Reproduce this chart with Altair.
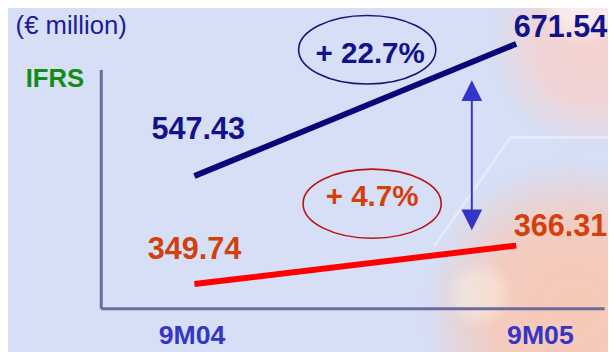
import altair as alt
import pandas as pd

# ---- data -------------------------------------------------------------
periods = ["9M04", "9M05"]
series_a = [547.43, 671.54]   # upper (navy) series, € million
series_b = [349.74, 366.31]   # lower (red) series, € million
unit_label = "(€ million)"
standard_label = "IFRS"

growth_a = f"+ {(series_a[1] / series_a[0] - 1) * 100:.1f}%"
growth_b = f"+ {(series_b[1] / series_b[0] - 1) * 100:.1f}%"

df_a = pd.DataFrame({"period": periods, "value": series_a})
df_b = pd.DataFrame({"period": periods, "value": series_b})
one = pd.DataFrame({"k": [0]})

# ---- style ------------------------------------------------------------
FONT = "Liberation Sans"
NAVY_LINE = "#07077a"
NAVY_TEXT = "#12128c"
RED_LINE = "#ff0000"
RED_TEXT = "#d2400e"
ARROW = "#3434c8"
AXIS = "#6a6a9c"
BG = "#d6dff6"

x_axis = alt.Axis(
    title=None, labelAngle=0, ticks=False, tickSize=0, grid=False, zindex=1,
    domain=True, domainColor=AXIS, domainWidth=3, domainCap="butt",
    labelFont=FONT, labelFontSize=27, labelFontWeight="bold",
    labelColor="#3636c6", labelPadding=15,
    labelOffset={"condition": {"test": "datum.label == '9M05'", "value": 24}, "value": -3},
)
x_enc = alt.X("period:N", sort=periods,
              scale=alt.Scale(type="point", padding=0.282, align=0.516),
              axis=x_axis)

y_axis_a = alt.Axis(title=None, labels=False, ticks=False, grid=False, zindex=1,
                    domain=True, domainColor=AXIS, domainWidth=3, domainCap="butt")
y_a = alt.Y("value:Q", scale=alt.Scale(domain=[423.3, 647.5], zero=False, nice=False),
            axis=y_axis_a)
y_b = alt.Y("value:Q", scale=alt.Scale(domain=[339.3, 442.2], zero=False, nice=False),
            axis=None)

# ---- decoration (soft background glow) --------------------------------
def glow(px, py, r, rgb, alpha):
    c = lambda a: f"rgba({rgb[0]},{rgb[1]},{rgb[2]},{a})"
    grad = alt.RadialGradient(
        gradient="radial",
        stops=[alt.GradientStop(offset=0, color=c(alpha)),
               alt.GradientStop(offset=0.55, color=c(alpha * 0.85)),
               alt.GradientStop(offset=1, color=c(0))],
    )
    return alt.Chart(one).mark_circle(fill=grad, opacity=1, strokeWidth=0).encode(
        x=alt.value(px), y=alt.value(py), size=alt.value(3.1416 * r * r))

deco = [
    glow(500, -25, 120, (246, 210, 206), 0.95),
    glow(488, -68, 50, (255, 255, 255), 0.6),
    glow(480, 245, 175, (248, 200, 182), 1.0),
    glow(384, 228, 40, (255, 252, 235), 0.4),
    alt.Chart(one).mark_rule(color="#ffffff", opacity=0.35, strokeWidth=3).encode(
        x=alt.value(338), y=alt.value(179), x2=alt.value(415), y2=alt.value(69)),
    alt.Chart(one).mark_rule(color="#ffffff", opacity=0.35, strokeWidth=3).encode(
        x=alt.value(415), y=alt.value(69), x2=alt.value(514), y2=alt.value(69)),
]

# ---- series -----------------------------------------------------------
def value_text(df, y_enc, color, period, dx, dy):
    return alt.Chart(df).transform_filter(alt.datum.period == period).mark_text(
        font=FONT, fontSize=31, fontWeight="bold", color=color,
        align="center", baseline="middle", dx=dx, dy=dy,
    ).encode(x=x_enc, y=y_enc, text=alt.Text("value:Q", format=".2f"))

line_a = alt.Chart(df_a).mark_line(color=NAVY_LINE, strokeWidth=6, strokeCap="butt").encode(
    x=x_enc, y=y_a)
group_a = alt.layer(
    line_a,
    value_text(df_a, y_a, NAVY_TEXT, "9M04", 4, -47),
    value_text(df_a, y_a, NAVY_TEXT, "9M05", 45, -16),
)

line_b = alt.Chart(df_b).mark_line(color=RED_LINE, strokeWidth=6, strokeCap="butt").encode(
    x=x_enc, y=y_b)
group_b = alt.layer(
    line_b,
    value_text(df_b, y_b, RED_TEXT, "9M04", 0, -34),
    value_text(df_b, y_b, RED_TEXT, "9M05", 45, -19),
)

# ---- annotations ------------------------------------------------------
ELLIPSE = "M-1,0A1,0.5 0 1,1 1,0A1,0.5 0 1,1 -1,0Z"

def ellipse(px, py, w, color):
    return alt.Chart(one).mark_point(shape=ELLIPSE, filled=False, color=color,
                                     strokeWidth=1.6, opacity=1).encode(
        x=alt.value(px), y=alt.value(py), size=alt.value(w * w))

def label(txt, px, py, size, color, weight="bold"):
    return alt.Chart(one).mark_text(text=txt, font=FONT, fontSize=size, fontWeight=weight,
                                    color=color, align="center", baseline="middle").encode(
        x=alt.value(px), y=alt.value(py))

annot = [
    ellipse(270, -20, 139, "#14147e"),
    label(growth_a, 273, -16, 30, NAVY_TEXT),
    ellipse(275, 136, 140, "#b81414"),
    label(growth_b, 275, 129, 30, RED_TEXT),
    alt.Chart(one).mark_rule(color=ARROW, strokeWidth=2).encode(
        x=alt.value(376), y=alt.value(21), y2=alt.value(153)),
    alt.Chart(one).mark_point(shape="M0,-1L1,1L-1,1Z", filled=True, color=ARROW,
                              opacity=1).encode(
        x=alt.value(376), y=alt.value(21.5), size=alt.value(441)),
    alt.Chart(one).mark_point(shape="M0,1L1,-1L-1,-1Z", filled=True, color=ARROW,
                              opacity=1).encode(
        x=alt.value(376), y=alt.value(152.5), size=alt.value(441)),
    label(unit_label, -30, -43.5, 26, "#1c1c9a", "normal"),
    label(standard_label, -46.5, 10, 26, "#148c14"),
]

chart = alt.layer(*deco, group_a, group_b, *annot).resolve_scale(
    y="independent"
).properties(
    width=510, height=242,
    autosize=alt.AutoSizeParams(type="none"),
    padding={"left": 94, "top": 60, "right": 4, "bottom": 42},
    background=BG,
).configure_view(stroke=None)

chart.save("out.html", embed_options={"renderer": "svg", "actions": False})
